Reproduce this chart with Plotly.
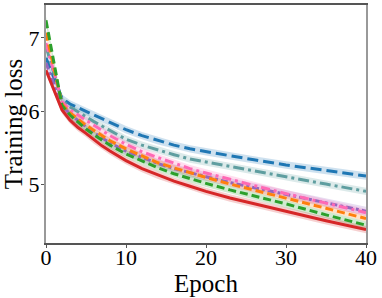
import plotly.graph_objects as go

epochs = [0, 1, 2, 3, 4, 5, 6, 7, 8, 10, 12, 14, 16, 18, 20, 23, 26, 30, 35, 40]

loss_blue = [6.73, 6.45, 6.18, 6.10, 6.05, 6.00, 5.95, 5.90, 5.85, 5.75, 5.67, 5.60, 5.54, 5.49, 5.45, 5.39, 5.34, 5.27, 5.19, 5.12]
loss_teal = [6.88, 6.52, 6.15, 6.06, 5.99, 5.93, 5.86, 5.80, 5.74, 5.62, 5.54, 5.47, 5.41, 5.35, 5.31, 5.24, 5.18, 5.11, 5.01, 4.91]
loss_pink = [6.93, 6.53, 6.13, 6.02, 5.95, 5.88, 5.81, 5.74, 5.67, 5.55, 5.45, 5.37, 5.29, 5.22, 5.16, 5.07, 4.99, 4.88, 4.75, 4.62]
loss_purple = [6.66, 6.37, 6.08, 5.96, 5.87, 5.79, 5.71, 5.64, 5.57, 5.46, 5.37, 5.29, 5.22, 5.16, 5.11, 5.03, 4.96, 4.87, 4.75, 4.64]
loss_orange = [7.07, 6.58, 6.10, 5.98, 5.89, 5.81, 5.74, 5.67, 5.60, 5.49, 5.39, 5.30, 5.23, 5.16, 5.10, 5.01, 4.93, 4.82, 4.68, 4.54]
loss_green = [7.24, 6.66, 6.08, 5.95, 5.85, 5.76, 5.68, 5.61, 5.54, 5.42, 5.32, 5.23, 5.15, 5.08, 5.02, 4.93, 4.85, 4.74, 4.59, 4.45]
loss_red = [6.56, 6.29, 6.02, 5.88, 5.78, 5.70, 5.61, 5.53, 5.46, 5.33, 5.22, 5.13, 5.05, 4.98, 4.91, 4.82, 4.74, 4.64, 4.51, 4.39]

band_halfwidth = {"blue": 0.05, "teal": 0.05, "pink": 0.05, "purple": 0.06, "orange": 0.04, "green": 0.05, "red": 0.05}

x_ticks = [0, 10, 20, 30, 40]
y_ticks = [5, 6, 7]

series = [
    ("blue", loss_blue, "#1f77b4", "11px,5px"),
    ("teal", loss_teal, "#5f9ea0", "11px,4px,3px,4px"),
    ("purple", loss_purple, "#9467bd", "7px,3px,3px,3px"),
    ("pink", loss_pink, "#ff69b4", "9px,4px,3px,4px"),
    ("orange", loss_orange, "#ff7f0e", "8px,4px"),
    ("green", loss_green, "#2ca02c", "8px,4px"),
    ("red", loss_red, "#d62728", "solid"),
]


def rgba(hex_color, a):
    h = hex_color.lstrip("#")
    r, g, b = int(h[0:2], 16), int(h[2:4], 16), int(h[4:6], 16)
    return f"rgba({r},{g},{b},{a})"


fig = go.Figure()
for name, vals, color, dash in series:
    hw = band_halfwidth[name]
    upper = [v + hw for v in vals]
    lower = [v - hw for v in vals]
    fig.add_trace(go.Scatter(
        x=epochs + epochs[::-1], y=upper + lower[::-1],
        fill="toself", fillcolor=rgba(color, 0.22), line=dict(width=0),
        hoverinfo="skip", showlegend=False, mode="lines"))
for name, vals, color, dash in series:
    fig.add_trace(go.Scatter(
        x=epochs, y=vals, mode="lines", name=name, showlegend=False,
        line=dict(color=color, width=3, dash=dash)))

font_family = "Liberation Serif, Times New Roman, Times, serif"
fig.update_layout(
    width=382, height=298,
    margin=dict(l=46, r=16, t=5, b=55, autoexpand=False),
    plot_bgcolor="white", paper_bgcolor="white",
    font=dict(family=font_family, size=20, color="black"),
    showlegend=False,
)
fig.update_xaxes(
    range=[0, 40], tickvals=x_ticks, ticktext=[str(t) for t in x_ticks],
    showgrid=False, zeroline=False, showline=True, linecolor="#555", linewidth=2,
    mirror=True, ticks="outside", ticklen=3, tickcolor="#555", automargin=False,
    ticklabelstandoff=-9,
    tickfont=dict(family=font_family, size=22, color="black"),
    title=dict(text="Epoch", font=dict(family=font_family, size=25, color="black"), standoff=0),
)
fig.update_yaxes(
    range=[4.207, 7.449], tickvals=y_ticks, ticktext=[str(t) for t in y_ticks],
    showgrid=False, zeroline=False, showline=True, linecolor="#999", linewidth=2,
    mirror=True, ticks="outside", ticklen=3, tickcolor="#555", automargin=False,
    ticklabelstandoff=-3,
    tickfont=dict(family=font_family, size=22, color="black"),
    title=dict(text="Training loss", font=dict(family=font_family, size=25, color="black"), standoff=0),
)

fig.write_html("out.html", config={"displayModeBar": False},
               post_script="document.body.style.margin='0px';document.body.style.overflow='hidden';")
